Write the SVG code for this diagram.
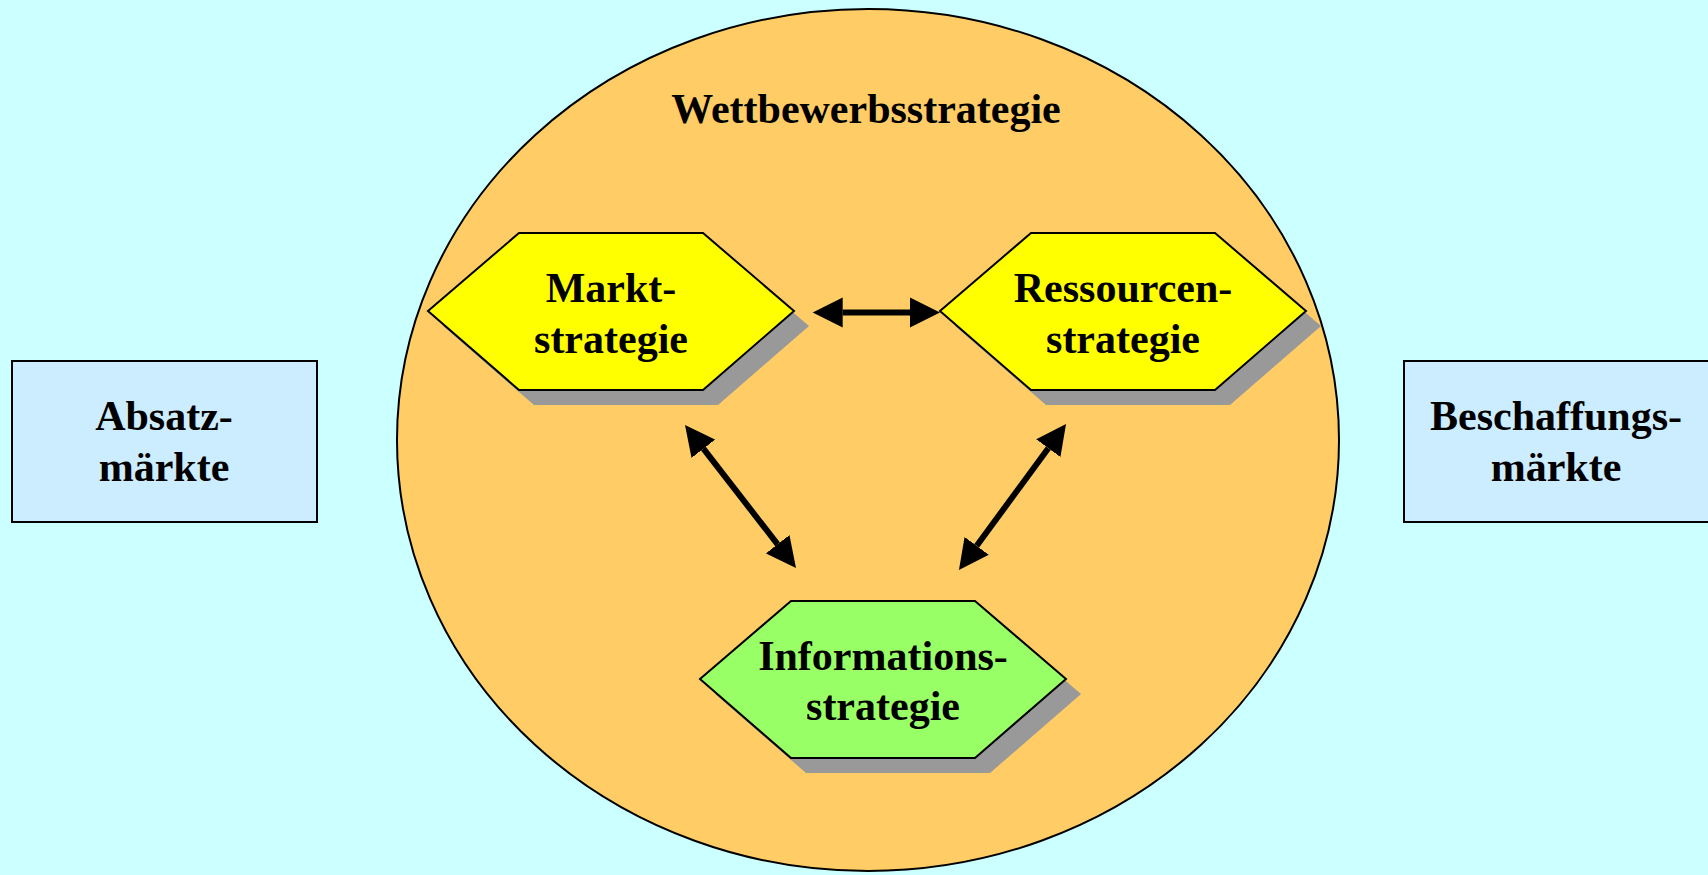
<svg xmlns="http://www.w3.org/2000/svg" width="1708" height="875" viewBox="0 0 1708 875">
  <style>
    .lbl { font-family: "Liberation Serif", "Times New Roman", serif; font-weight: bold; font-size: 42px; fill: #000; text-anchor: middle; }
    .hex { stroke: #000; stroke-width: 2; stroke-linejoin: miter; }
    .shadow { fill: #999999; stroke: none; }
    .yellow { fill: #FFFF00; }
    .green { fill: #99FF66; }
    .market { fill: #CCECFF; stroke: #000; stroke-width: 2; }
    .conn { stroke: #000; stroke-width: 6; fill: none; marker-start: url(#head); marker-end: url(#head); }
  </style>
  <defs>
    <polygon id="hexShape" points="0,78 91,0 275,0 366,78 275,157 91,157"/>
    <marker id="head" markerUnits="userSpaceOnUse" markerWidth="31" markerHeight="31" refX="0" refY="15" orient="auto-start-reverse" viewBox="0 0 31 30">
      <path d="M0,0 L30,15 L0,30 Z" fill="#000"/>
    </marker>
  </defs>

  <rect width="1708" height="875" fill="#CCFFFF"/>

  <!-- outer strategy ellipse -->
  <g id="wettbewerbsstrategie">
    <ellipse cx="868" cy="440" rx="471" ry="431" fill="#FFCC66" stroke="#000" stroke-width="2"/>
    <text class="lbl" x="866" y="123">Wettbewerbsstrategie</text>
  </g>

  <g id="absatzmaerkte">
    <rect class="market" x="12" y="361" width="305" height="161"/>
    <text class="lbl" x="164" y="430">Absatz-</text>
    <text class="lbl" x="164" y="481">märkte</text>
  </g>

  <g id="beschaffungsmaerkte">
    <rect class="market" x="1404" y="361" width="305" height="161"/>
    <text class="lbl" x="1556" y="430">Beschaffungs-</text>
    <text class="lbl" x="1556" y="481">märkte</text>
  </g>

  <g id="marktstrategie">
    <use href="#hexShape" class="shadow" transform="translate(443,248)"/>
    <use href="#hexShape" class="hex yellow" transform="translate(428,233)"/>
    <text class="lbl" x="611" y="302">Markt-</text>
    <text class="lbl" x="611" y="353">strategie</text>
  </g>

  <g id="ressourcenstrategie">
    <use href="#hexShape" class="shadow" transform="translate(955,248)"/>
    <use href="#hexShape" class="hex yellow" transform="translate(940,233)"/>
    <text class="lbl" x="1123" y="302">Ressourcen-</text>
    <text class="lbl" x="1123" y="353">strategie</text>
  </g>

  <g id="informationsstrategie">
    <use href="#hexShape" class="shadow" transform="translate(715,616)"/>
    <use href="#hexShape" class="hex green" transform="translate(700,601)"/>
    <text class="lbl" x="883" y="670">Informations-</text>
    <text class="lbl" x="883" y="720">strategie</text>
  </g>

  <!-- two-way links between the three sub-strategies -->
  <g id="connectors">
    <line class="conn" x1="842.7" y1="312.5" x2="910" y2="312.5"/>
    <line class="conn" x1="703.4" y1="448.7" x2="777.6" y2="544.3"/>
    <line class="conn" x1="1048.3" y1="448.2" x2="976.7" y2="545.8"/>
  </g>
</svg>
